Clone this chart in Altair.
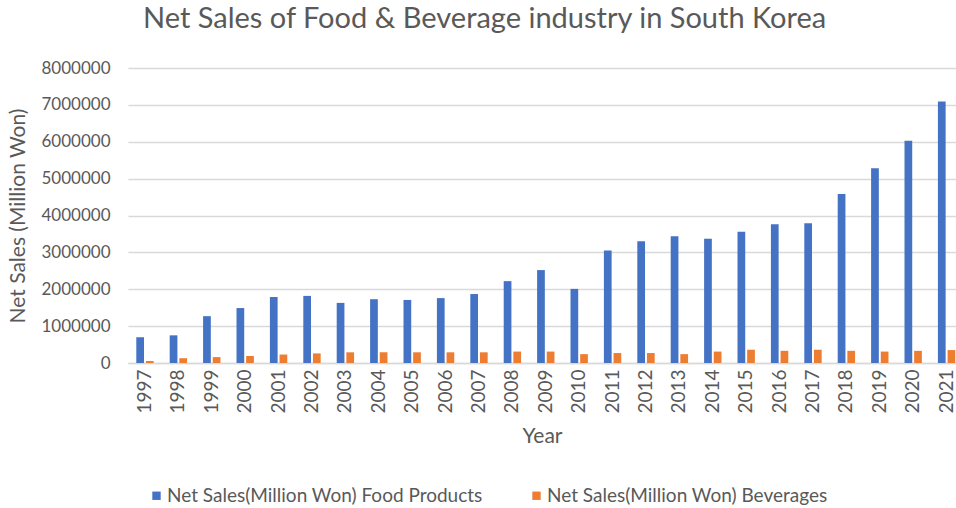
import altair as alt
import pandas as pd

years = [str(y) for y in range(1997, 2022)]
food = [700000, 750000, 1270000, 1490000, 1790000, 1820000, 1630000, 1730000, 1710000, 1760000,
        1870000, 2220000, 2520000, 2010000, 3050000, 3300000, 3440000, 3370000, 3560000, 3760000,
        3790000, 4580000, 5280000, 6030000, 7090000]
beverages = [55000, 130000, 160000, 190000, 230000, 260000, 290000, 290000, 290000, 290000,
             290000, 310000, 310000, 240000, 270000, 270000, 240000, 310000, 360000, 330000,
             360000, 330000, 310000, 330000, 350000]
series = ["Net Sales(Million Won) Food Products", "Net Sales(Million Won) Beverages"]
colors = ["#4472C4", "#ED7D31"]

rows = []
for i, y in enumerate(years):
    rows.append({"Year": y, "Series": series[0], "Value": food[i]})
    rows.append({"Year": y, "Series": series[1], "Value": beverages[i]})
df = pd.DataFrame(rows)

FONT = "Lato"
GREY = "#595959"

chart = alt.Chart(df).mark_bar().encode(
    x=alt.X("Year:N", sort=years,
            scale=alt.Scale(paddingInner=0.48, paddingOuter=0.135, align=0.92),
            axis=alt.Axis(title="Year", labelAngle=270, labelAlign="right", labelBaseline="middle",
                          labelPadding=6, ticks=False, domainColor="#d9d9d9", domainWidth=1.5,
                          labelFontSize=19, titlePadding=12)),
    xOffset=alt.XOffset("Series:N", sort=series, scale=alt.Scale(paddingInner=0.2)),
    y=alt.Y("Value:Q", scale=alt.Scale(domain=[0, 8000000], nice=False),
            axis=alt.Axis(title="Net Sales (Million Won)", values=list(range(0, 8000001, 1000000)),
                          format="d", ticks=False, domain=False, gridColor="#d9d9d9", gridWidth=1.5,
                          labelPadding=18, titlePadding=12)),
    color=alt.Color("Series:N", sort=series, scale=alt.Scale(domain=series, range=colors),
                    legend=alt.Legend(title=None, orient="none", direction="horizontal",
                                      legendX=19, legendY=418, symbolType="square",
                                      symbolSize=70, columnPadding=44, labelOffset=1,
                                      symbolStrokeWidth=0)),
).properties(
    width=828, height=295,
    title=alt.TitleParams("Net Sales of Food & Beverage industry in South Korea",
                          anchor="start", frame="group", dx=15, offset=25, fontSize=29, font=FONT,
                          fontWeight="normal", color=GREY),
    autosize=alt.AutoSizeParams(type="none"),
    padding={"left": 128, "top": 68, "right": 0, "bottom": 145},
).configure_axis(
    labelFont=FONT, titleFont=FONT, labelColor=GREY, titleColor=GREY,
    labelFontSize=17, titleFontSize=21, titleFontWeight="normal",
).configure_legend(
    labelFont=FONT, labelFontSize=19, labelColor=GREY, labelLimit=0,
).configure_view(stroke=None)

chart.save("out.html", embed_options={"renderer": "svg", "actions": False})
